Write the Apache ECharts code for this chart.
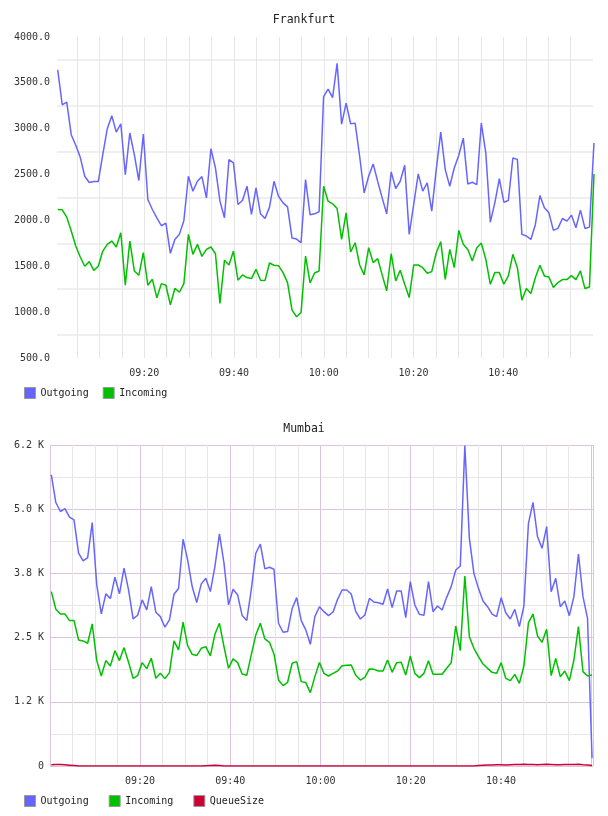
<!DOCTYPE html>
<html>
<head>
<meta charset="utf-8">
<script src="https://cdn.jsdelivr.net/npm/echarts@6/dist/echarts.min.js"></script>
<style>
  html, body { margin: 0; padding: 0; background: #fff; }
  #c { width: 608px; height: 816px; }
</style>
</head>
<body>
<div id="c"></div>
<script>
// one sample per minute, x values are minutes after 09:00
var xTickLabels = ['09:20', '09:40', '10:00', '10:20', '10:40'];
var mumbaiYLabels = ['0', '1.2 K', '2.5 K', '3.8 K', '5.0 K', '6.2 K'];

var frankOut = [3641, 3261, 3290, 2935, 2819, 2688, 2482, 2413, 2424, 2424,
  2717, 3000, 3141, 2963, 3054, 2500, 2953, 2717, 2435, 2942,
  2228, 2119, 2029, 1942, 1971, 1641, 1793, 1848, 2000, 2482,
  2319, 2427, 2478, 2246, 2782, 2572, 2210, 2029, 2663, 2627,
  2174, 2217, 2373, 2065, 2355, 2072, 2021, 2145, 2427, 2264,
  2192, 2148, 1808, 1797, 1757, 2445, 2061, 2072, 2094, 3351,
  3431, 3340, 3713, 3050, 3279, 3054, 3061, 2700, 2300, 2482,
  2616, 2427, 2246, 2072, 2529, 2348, 2427, 2601, 1848, 2174,
  2507, 2319, 2409, 2101, 2554, 2963, 2554, 2373, 2572, 2710,
  2898, 2398, 2416, 2391, 3061, 2735, 1982, 2192, 2456, 2199,
  2217, 2681, 2666, 1848, 1830, 1793, 1956, 2271, 2137, 2083,
  1891, 1913, 2021, 1992, 2058, 1920, 2112, 1913, 1927, 2844];

var frankIn = [2119, 2116, 2036, 1884, 1721, 1601, 1500, 1551, 1456, 1500,
  1666, 1739, 1775, 1710, 1866, 1293, 1775, 1449, 1402, 1648,
  1293, 1358, 1156, 1311, 1293, 1079, 1261, 1217, 1311, 1848,
  1630, 1739, 1608, 1684, 1710, 1637, 1094, 1565, 1514, 1666,
  1348, 1406, 1377, 1366, 1467, 1348, 1344, 1536, 1511, 1507,
  1431, 1322, 1022, 949, 996, 1612, 1319, 1427, 1449, 2373,
  2210, 2181, 2130, 1793, 2083, 1656, 1757, 1514, 1406, 1703,
  1540, 1583, 1406, 1232, 1637, 1340, 1456, 1304, 1159, 1514,
  1514, 1485, 1424, 1442, 1648, 1768, 1358, 1684, 1485, 1891,
  1739, 1684, 1558, 1703, 1753, 1576, 1304, 1431, 1431, 1304,
  1395, 1630, 1485, 1130, 1257, 1203, 1377, 1511, 1395, 1384,
  1268, 1322, 1355, 1355, 1398, 1355, 1449, 1257, 1275, 2507];

var mumbaiOut = [5669, 5130, 4955, 5013, 4845, 4793, 4143, 3994, 4059, 4741,
  3526, 2961, 3351, 3260, 3676, 3351, 3851, 3429, 2864, 2935,
  3234, 3039, 3494, 2994, 2909, 2702, 2844, 3344, 3455, 4416,
  4013, 3494, 3182, 3546, 3656, 3396, 3883, 4520, 3948, 3137,
  3442, 3331, 2929, 2831, 3429, 4143, 4319, 3838, 3870, 3831,
  2779, 2604, 2617, 3065, 3279, 2831, 2650, 2370, 2909, 3100,
  3005, 2927, 2998, 3245, 3427, 3427, 3349, 3005, 2862, 2940,
  3264, 3193, 3180, 3148, 3446, 3083, 3407, 3407, 2888, 3589,
  3135, 2953, 2933, 3589, 3005, 3115, 3037, 3284, 3492, 3816,
  3894, 6240, 4433, 3751, 3459, 3213, 3102, 2959, 2908, 3277,
  2985, 2862, 3050, 2713, 3115, 4725, 5134, 4465, 4238, 4660,
  3394, 3654, 3102, 3213, 2927, 3297, 4128, 3297, 2875, 149];

var mumbaiIn = [3396, 3052, 2961, 2961, 2831, 2831, 2455, 2435, 2390, 2766,
  2052, 1753, 2052, 1948, 2247, 2052, 2305, 2020, 1708, 1760,
  2013, 1896, 2098, 1708, 1805, 1701, 1818, 2435, 2260, 2799,
  2344, 2175, 2150, 2292, 2325, 2143, 2565, 2779, 2325, 1903,
  2085, 2013, 1792, 1766, 2163, 2552, 2779, 2474, 2409, 2182,
  1675, 1565, 1630, 2000, 2033, 1643, 1624, 1429, 1740, 2016,
  1804, 1752, 1804, 1850, 1953, 1960, 1966, 1765, 1674, 1726,
  1889, 1882, 1850, 1850, 2064, 1824, 2012, 2018, 1772, 2142,
  1804, 1720, 1804, 2051, 1785, 1785, 1785, 1902, 2012, 2726,
  2246, 3699, 2518, 2291, 2129, 1986, 1902, 1824, 1804, 2012,
  1707, 1661, 1785, 1610, 1947, 2791, 2959, 2531, 2408, 2661,
  1759, 2096, 1739, 1850, 1661, 2064, 2713, 1837, 1752, 1772];

var mumbaiQueue = [25, 30, 28, 22, 15, 8, 0, 0, 0, 0,
  0, 0, 0, 0, 0, 0, 0, 0, 0, 0,
  0, 0, 0, 0, 0, 0, 0, 0, 0, 0,
  0, 0, 0, 0, 5, 10, 15, 8, 0, 0,
  0, 0, 0, 0, 0, 0, 0, 0, 0, 0,
  0, 0, 0, 0, 0, 0, 0, 0, 0, 0,
  0, 0, 0, 0, 0, 0, 0, 0, 0, 0,
  0, 0, 0, 0, 0, 0, 0, 0, 0, 0,
  0, 0, 0, 0, 0, 0, 0, 0, 0, 0,
  0, 0, 0, 0, 10, 15, 20, 20, 25, 25,
  20, 25, 30, 30, 35, 30, 30, 25, 30, 35,
  30, 25, 25, 30, 28, 30, 35, 25, 20, 10];

var FONT = 'DejaVu Sans Mono';
var BLUE = '#6666ff', GREEN = '#00c000', RED = '#cc0033';

function hhmm(v) {
  var m = Math.round(v);
  var h = 9 + Math.floor(m / 60), mm = m % 60;
  return (h < 10 ? '0' : '') + h + ':' + (mm < 10 ? '0' : '') + mm;
}
function xLabel(v) {
  var s = hhmm(v);
  return (Math.abs(v - Math.round(v)) < 1e-6 && xTickLabels.indexOf(s) >= 0) ? s : '';
}
// pair each value with its sample time (start and step)
function pairs(vals, t0, step) {
  return vals.map(function (v, i) { return [t0 + i * step, v]; });
}

var labelStyle = { fontFamily: FONT, fontSize: 10, color: '#333' };
var titleStyle = { fontFamily: FONT, fontSize: 11.5, fontWeight: 'normal', color: '#222' };
var legendBase = {
  icon: 'rect', padding: 0, itemWidth: 11, itemHeight: 11,
  itemStyle: { borderColor: '#999', borderWidth: 1 },
  textStyle: { fontFamily: FONT, fontSize: 10, color: '#222' }
};

function line(name, color, xi, vals, t0, step, z) {
  return {
    name: name, type: 'line', xAxisIndex: xi, yAxisIndex: xi,
    data: pairs(vals, t0, step), showSymbol: false, z: z || 2,
    lineStyle: { color: color, width: 1.5 },
    itemStyle: { color: color }
  };
}

var chart = echarts.init(document.getElementById('c'));
chart.setOption({
  animation: false,
  title: [
    { text: 'Frankfurt', left: 'center', top: 9, textStyle: titleStyle },
    { text: 'Mumbai', left: 'center', top: 418, textStyle: titleStyle }
  ],
  legend: [
    Object.assign({ data: ['Outgoing', 'Incoming'], left: 24, top: 387, itemGap: 14 }, legendBase),
    Object.assign({ data: ['Outgoing', 'Incoming', 'QueueSize'], left: 24, top: 795, itemGap: 20 }, legendBase)
  ],
  grid: [
    { left: 57, right: 15, top: 37, height: 321 },
    { left: 50, right: 15, top: 445, height: 321 }
  ],
  xAxis: [
    { type: 'value', gridIndex: 0, min: 0.56, max: 119.98,
      minInterval: 5, maxInterval: 5, splitNumber: 24,
      axisLine: { show: false }, axisTick: { show: false },
      axisLabel: Object.assign({ margin: 10, formatter: xLabel }, labelStyle),
      splitLine: { show: true, showMinLine: false, showMaxLine: false,
        lineStyle: { color: '#e6e6e6', width: 1 } } },
    { type: 'value', gridIndex: 1, min: 0.06, max: 120.39,
      minInterval: 20, maxInterval: 20, splitNumber: 6,
      axisLine: { show: false }, axisTick: { show: false },
      axisLabel: Object.assign({ margin: 10, formatter: xLabel }, labelStyle),
      splitLine: { show: true, lineStyle: { color: '#dcc3df', width: 1 } },
      minorTick: { show: false, splitNumber: 4 },
      minorSplitLine: { show: true, lineStyle: { color: '#e6e6e6', width: 1 } } }
  ],
  yAxis: [
    { type: 'value', gridIndex: 0, min: 500, max: 4000, interval: 500,
      axisLine: { show: false }, axisTick: { show: false },
      axisLabel: Object.assign({ margin: 7, formatter: function (v) { return v.toFixed(1); } }, labelStyle),
      splitLine: { show: false },
      minorTick: { show: false, splitNumber: 2 },
      minorSplitLine: { show: true, lineStyle: { color: '#efefef', width: 2 } } },
    { type: 'value', gridIndex: 1, min: 0, max: 6250, interval: 1250,
      axisLine: { show: false }, axisTick: { show: false },
      axisLabel: Object.assign({ margin: 6, formatter: function (v) { return mumbaiYLabels[Math.round(v / 1250)]; } }, labelStyle),
      splitLine: { show: true, lineStyle: { color: '#dcc3df', width: 1 } },
      minorTick: { show: false, splitNumber: 2 },
      minorSplitLine: { show: true, lineStyle: { color: '#e6e6e6', width: 1 } } }
  ],
  series: [
    line('Outgoing', BLUE, 0, frankOut, 0.72, 1.004),
    line('Incoming', GREEN, 0, frankIn, 0.72, 1.004),
    line('Outgoing', BLUE, 1, mumbaiOut, 0.35, 1.007),
    line('Incoming', GREEN, 1, mumbaiIn, 0.35, 1.007),
    line('QueueSize', RED, 1, mumbaiQueue, 0.35, 1.007, 3)
  ]
});
</script>
</body>
</html>
